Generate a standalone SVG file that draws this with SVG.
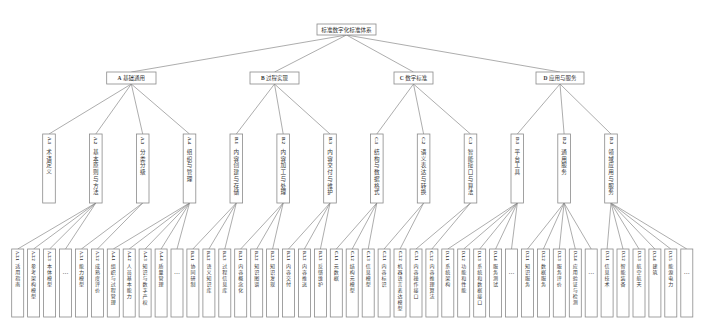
<svg xmlns="http://www.w3.org/2000/svg" width="709" height="326" viewBox="0 0 709 326">
<style>
.b{fill:#fff;stroke:#8a8a8a;stroke-width:0.8}
.c path{stroke:#8a8a8a;stroke-width:0.7;fill:none}
.h{font-family:"Liberation Serif","Noto Sans CJK SC",serif;fill:#333;text-anchor:middle}
.lb{font-family:"Liberation Serif",serif;font-weight:bold;fill:#333;dominant-baseline:central}
.l2{font-size:5px}
.l3{font-size:4.3px}
.t2,.t3{font-family:"Liberation Serif","Noto Sans CJK SC",serif;fill:#3a3a3a;text-anchor:middle}
.t2{font-size:5.6px}
.t3{font-size:5px}
.d{font-family:"Liberation Serif",serif;font-size:6px;fill:#333;text-anchor:middle}
</style>
<rect width="709" height="326" fill="#fff"/>
<g class="c" id="connectors">
<path d="M346.5 35L131.3 72M346.5 35L274.5 72M346.5 35L413.5 72M346.5 35L560 72"/>
<path d="M131.3 84L49 134M131.3 84L95.8 134M131.3 84L142.7 134M131.3 84L189.5 134"/>
<path d="M274.5 84L236.3 134M274.5 84L283.2 134M274.5 84L330 134"/>
<path d="M413.5 84L376.8 134M413.5 84L423.6 134M413.5 84L470.5 134"/>
<path d="M560 84L517.3 134M560 84L564.1 134M560 84L611 134"/>
<path d="M95.8 203L17.7 249M95.8 203L33.6 249M95.8 203L49.6 249M95.8 203L65.5 249"/>
<path d="M142.7 203L81.4 249M142.7 203L97.4 249"/>
<path d="M189.5 203L113.3 249M189.5 203L129.2 249M189.5 203L145.1 249M189.5 203L161.1 249M189.5 203L177 249"/>
<path d="M236.3 203L192.9 249M236.3 203L208.9 249M236.3 203L224.8 249"/>
<path d="M283.2 203L240.7 249M283.2 203L256.7 249M283.2 203L272.6 249"/>
<path d="M330 203L288.5 249M330 203L304.4 249M330 203L320.4 249"/>
<path d="M376.8 203L336.3 249M376.8 203L352.2 249M376.8 203L368.2 249"/>
<path d="M423.6 203L384.1 249M423.6 203L400 249"/>
<path d="M470.5 203L416 249M470.5 203L431.9 249"/>
<path d="M517.3 203L447.8 249M517.3 203L463.7 249M517.3 203L479.7 249M517.3 203L495.6 249M517.3 203L511.5 249"/>
<path d="M564.1 203L527.5 249M564.1 203L543.4 249M564.1 203L559.3 249M564.1 203L575.3 249M564.1 203L591.2 249"/>
<path d="M611 203L607.1 249M611 203L623 249M611 203L639 249M611 203L654.9 249M611 203L670.8 249M611 203L686.8 249"/>
</g>
<g id="root"><rect class="b" x="317" y="24" width="59" height="11"/><text class="h" x="346.5" y="31.6" font-size="5.6">标准数字化标准体系</text></g>
<g id="A"><rect class="b" x="106.7" y="72" width="49.3" height="12"/><text class="h" x="131.3" y="80" font-size="5.5"><tspan font-weight="bold">A</tspan> 基础通用</text></g>
<g id="B"><rect class="b" x="250" y="72" width="49" height="12"/><text class="h" x="274.5" y="80" font-size="5.5"><tspan font-weight="bold">B</tspan> 过程实现</text></g>
<g id="C"><rect class="b" x="394" y="72" width="39" height="12"/><text class="h" x="413.5" y="80" font-size="5.5"><tspan font-weight="bold">C</tspan> 数字标准</text></g>
<g id="D"><rect class="b" x="536" y="72" width="48" height="12"/><text class="h" x="560" y="80" font-size="5.5"><tspan font-weight="bold">D</tspan> 应用与服务</text></g>

<g id="A1"><rect class="b" x="42.7" y="134" width="12.6" height="69"/><text class="lb l2" transform="translate(49 137) rotate(90)">A.1</text><text class="t2" x="49 49 49 49" y="154 160.7 167.4 174.1">术语定义</text></g>
<g id="A2"><rect class="b" x="89.5" y="134" width="12.6" height="69"/><text class="lb l2" transform="translate(95.8 137) rotate(90)">A.2</text><text class="t2" x="95.8 95.8 95.8 95.8 95.8 95.8 95.8" y="154 160.7 167.4 174.1 180.8 187.5 194.2">基本原则与方法</text></g>
<g id="A3"><rect class="b" x="136.4" y="134" width="12.6" height="69"/><text class="lb l2" transform="translate(142.7 137) rotate(90)">A.3</text><text class="t2" x="142.7 142.7 142.7 142.7" y="154 160.7 167.4 174.1">分类分级</text></g>
<g id="A4"><rect class="b" x="183.2" y="134" width="12.6" height="69"/><text class="lb l2" transform="translate(189.5 137) rotate(90)">A.4</text><text class="t2" x="189.5 189.5 189.5 189.5 189.5" y="154 160.7 167.4 174.1 180.8">组织与管理</text></g>
<g id="B1"><rect class="b" x="230" y="134" width="12.6" height="69"/><text class="lb l2" transform="translate(236.3 137) rotate(90)">B.1</text><text class="t2" x="236.3 236.3 236.3 236.3 236.3 236.3 236.3" y="154 160.7 167.4 174.1 180.8 187.5 194.2">内容创建与存储</text></g>
<g id="B2"><rect class="b" x="276.9" y="134" width="12.6" height="69"/><text class="lb l2" transform="translate(283.2 137) rotate(90)">B.2</text><text class="t2" x="283.2 283.2 283.2 283.2 283.2 283.2 283.2" y="154 160.7 167.4 174.1 180.8 187.5 194.2">内容加工与处理</text></g>
<g id="B3"><rect class="b" x="323.7" y="134" width="12.6" height="69"/><text class="lb l2" transform="translate(330 137) rotate(90)">B.3</text><text class="t2" x="330 330 330 330 330 330 330" y="154 160.7 167.4 174.1 180.8 187.5 194.2">内容交付与维护</text></g>
<g id="C1"><rect class="b" x="370.5" y="134" width="12.6" height="69"/><text class="lb l2" transform="translate(376.8 137) rotate(90)">C.1</text><text class="t2" x="376.8 376.8 376.8 376.8 376.8 376.8 376.8" y="154 160.7 167.4 174.1 180.8 187.5 194.2">结构与数据格式</text></g>
<g id="C2"><rect class="b" x="417.3" y="134" width="12.6" height="69"/><text class="lb l2" transform="translate(423.6 137) rotate(90)">C.2</text><text class="t2" x="423.6 423.6 423.6 423.6 423.6 423.6 423.6" y="154 160.7 167.4 174.1 180.8 187.5 194.2">语义表达与转换</text></g>
<g id="C3"><rect class="b" x="464.2" y="134" width="12.6" height="69"/><text class="lb l2" transform="translate(470.5 137) rotate(90)">C.3</text><text class="t2" x="470.5 470.5 470.5 470.5 470.5 470.5 470.5" y="154 160.7 167.4 174.1 180.8 187.5 194.2">智能接口与算法</text></g>
<g id="D1"><rect class="b" x="511" y="134" width="12.6" height="69"/><text class="lb l2" transform="translate(517.3 137) rotate(90)">D.1</text><text class="t2" x="517.3 517.3 517.3 517.3" y="154 160.7 167.4 174.1">平台工具</text></g>
<g id="D2"><rect class="b" x="557.8" y="134" width="12.6" height="69"/><text class="lb l2" transform="translate(564.1 137) rotate(90)">D.2</text><text class="t2" x="564.1 564.1 564.1 564.1" y="154 160.7 167.4 174.1">通用服务</text></g>
<g id="D3"><rect class="b" x="604.7" y="134" width="12.6" height="69"/><text class="lb l2" transform="translate(611 137) rotate(90)">D.3</text><text class="t2" x="611 611 611 611 611 611 611" y="154 160.7 167.4 174.1 180.8 187.5 194.2">领域应用与服务</text></g>

<g id="A21"><rect class="b" x="11.7" y="249" width="12" height="68"/><text class="lb l3" transform="translate(17.7 251) rotate(90)">A.2.1</text><text class="t3" x="17.7 17.7 17.7 17.7" y="267.6 273.6 279.6 285.6">适用指南</text></g>
<g id="A22"><rect class="b" x="27.6" y="249" width="12" height="68"/><text class="lb l3" transform="translate(33.6 251) rotate(90)">A.2.2</text><text class="t3" x="33.6 33.6 33.6 33.6 33.6 33.6" y="267.6 273.6 279.6 285.6 291.6 297.6">参考架构模型</text></g>
<g id="A23"><rect class="b" x="43.6" y="249" width="12" height="68"/><text class="lb l3" transform="translate(49.6 251) rotate(90)">A.2.3</text><text class="t3" x="49.6 49.6 49.6 49.6" y="267.6 273.6 279.6 285.6">本体模型</text></g>
<g id="A2x"><rect class="b" x="59.5" y="249" width="12" height="68"/><text class="d" x="65.5" y="274">…</text></g>
<g id="A31"><rect class="b" x="75.4" y="249" width="12" height="68"/><text class="lb l3" transform="translate(81.4 251) rotate(90)">A.3.1</text><text class="t3" x="81.4 81.4 81.4 81.4" y="267.6 273.6 279.6 285.6">能力模型</text></g>
<g id="A32"><rect class="b" x="91.4" y="249" width="12" height="68"/><text class="lb l3" transform="translate(97.4 251) rotate(90)">A.3.2</text><text class="t3" x="97.4 97.4 97.4 97.4 97.4" y="267.6 273.6 279.6 285.6 291.6">成熟度评价</text></g>
<g id="A41"><rect class="b" x="107.3" y="249" width="12" height="68"/><text class="lb l3" transform="translate(113.3 251) rotate(90)">A.4.1</text><text class="t3" x="113.3 113.3 113.3 113.3 113.3 113.3 113.3" y="267.6 273.6 279.6 285.6 291.6 297.6 303.6">组织与过程管理</text></g>
<g id="A42"><rect class="b" x="123.2" y="249" width="12" height="68"/><text class="lb l3" transform="translate(129.2 251) rotate(90)">A.4.2</text><text class="t3" x="129.2 129.2 129.2 129.2 129.2 129.2" y="267.6 273.6 279.6 285.6 291.6 297.6">人员基本能力</text></g>
<g id="A43"><rect class="b" x="139.1" y="249" width="12" height="68"/><text class="lb l3" transform="translate(145.1 251) rotate(90)">A.4.3</text><text class="t3" x="145.1 145.1 145.1 145.1 145.1 145.1 145.1" y="267.6 273.6 279.6 285.6 291.6 297.6 303.6">知识与数字产权</text></g>
<g id="A44"><rect class="b" x="155.1" y="249" width="12" height="68"/><text class="lb l3" transform="translate(161.1 251) rotate(90)">A.4.4</text><text class="t3" x="161.1 161.1 161.1 161.1" y="267.6 273.6 279.6 285.6">质量管理</text></g>
<g id="A4x"><rect class="b" x="171" y="249" width="12" height="68"/><text class="d" x="177" y="274">…</text></g>
<g id="B11"><rect class="b" x="186.9" y="249" width="12" height="68"/><text class="lb l3" transform="translate(192.9 251) rotate(90)">B.1.1</text><text class="t3" x="192.9 192.9 192.9 192.9" y="267.6 273.6 279.6 285.6">协同研制</text></g>
<g id="B12"><rect class="b" x="202.9" y="249" width="12" height="68"/><text class="lb l3" transform="translate(208.9 251) rotate(90)">B.1.2</text><text class="t3" x="208.9 208.9 208.9 208.9 208.9" y="267.6 273.6 279.6 285.6 291.6">语义知识库</text></g>
<g id="B13"><rect class="b" x="218.8" y="249" width="12" height="68"/><text class="lb l3" transform="translate(224.8 251) rotate(90)">B.1.3</text><text class="t3" x="224.8 224.8 224.8 224.8 224.8" y="267.6 273.6 279.6 285.6 291.6">过程信息库</text></g>
<g id="B21"><rect class="b" x="234.7" y="249" width="12" height="68"/><text class="lb l3" transform="translate(240.7 251) rotate(90)">B.2.1</text><text class="t3" x="240.7 240.7 240.7 240.7 240.7" y="267.6 273.6 279.6 285.6 291.6">内容概念化</text></g>
<g id="B22"><rect class="b" x="250.7" y="249" width="12" height="68"/><text class="lb l3" transform="translate(256.7 251) rotate(90)">B.2.2</text><text class="t3" x="256.7 256.7 256.7 256.7" y="267.6 273.6 279.6 285.6">知识图谱</text></g>
<g id="B23"><rect class="b" x="266.6" y="249" width="12" height="68"/><text class="lb l3" transform="translate(272.6 251) rotate(90)">B.2.3</text><text class="t3" x="272.6 272.6 272.6 272.6" y="267.6 273.6 279.6 285.6">知识发现</text></g>
<g id="B31"><rect class="b" x="282.5" y="249" width="12" height="68"/><text class="lb l3" transform="translate(288.5 251) rotate(90)">B.3.1</text><text class="t3" x="288.5 288.5 288.5 288.5" y="267.6 273.6 279.6 285.6">内容交付</text></g>
<g id="B32"><rect class="b" x="298.4" y="249" width="12" height="68"/><text class="lb l3" transform="translate(304.4 251) rotate(90)">B.3.2</text><text class="t3" x="304.4 304.4 304.4 304.4" y="267.6 273.6 279.6 285.6">内容推送</text></g>
<g id="B33"><rect class="b" x="314.4" y="249" width="12" height="68"/><text class="lb l3" transform="translate(320.4 251) rotate(90)">B.3.3</text><text class="t3" x="320.4 320.4 320.4 320.4" y="267.6 273.6 279.6 285.6">反馈维护</text></g>
<g id="C11"><rect class="b" x="330.3" y="249" width="12" height="68"/><text class="lb l3" transform="translate(336.3 251) rotate(90)">C.1.1</text><text class="t3" x="336.3 336.3 336.3" y="267.6 273.6 279.6">元数据</text></g>
<g id="C12"><rect class="b" x="346.2" y="249" width="12" height="68"/><text class="lb l3" transform="translate(352.2 251) rotate(90)">C.1.2</text><text class="t3" x="352.2 352.2 352.2 352.2 352.2" y="267.6 273.6 279.6 285.6 291.6">结构元模型</text></g>
<g id="C13"><rect class="b" x="362.2" y="249" width="12" height="68"/><text class="lb l3" transform="translate(368.2 251) rotate(90)">C.1.3</text><text class="t3" x="368.2 368.2 368.2 368.2" y="267.6 273.6 279.6 285.6">信息模型</text></g>
<g id="C21"><rect class="b" x="378.1" y="249" width="12" height="68"/><text class="lb l3" transform="translate(384.1 251) rotate(90)">C.2.1</text><text class="t3" x="384.1 384.1 384.1 384.1" y="267.6 273.6 279.6 285.6">内容标识</text></g>
<g id="C22"><rect class="b" x="394" y="249" width="12" height="68"/><text class="lb l3" transform="translate(400 251) rotate(90)">C.2.2</text><text class="t3" x="400 400 400 400 400 400 400 400" y="267.6 273.6 279.6 285.6 291.6 297.6 303.6 309.6">机器语言表达模型</text></g>
<g id="C31"><rect class="b" x="410" y="249" width="12" height="68"/><text class="lb l3" transform="translate(416 251) rotate(90)">C.3.1</text><text class="t3" x="416 416 416 416 416 416" y="267.6 273.6 279.6 285.6 291.6 297.6">内容操作接口</text></g>
<g id="C32"><rect class="b" x="425.9" y="249" width="12" height="68"/><text class="lb l3" transform="translate(431.9 251) rotate(90)">C.3.2</text><text class="t3" x="431.9 431.9 431.9 431.9 431.9 431.9" y="267.6 273.6 279.6 285.6 291.6 297.6">内容推理算法</text></g>
<g id="D11"><rect class="b" x="441.8" y="249" width="12" height="68"/><text class="lb l3" transform="translate(447.8 251) rotate(90)">D.1.1</text><text class="t3" x="447.8 447.8 447.8 447.8" y="267.6 273.6 279.6 285.6">系统架构</text></g>
<g id="D12"><rect class="b" x="457.7" y="249" width="12" height="68"/><text class="lb l3" transform="translate(463.7 251) rotate(90)">D.1.2</text><text class="t3" x="463.7 463.7 463.7 463.7 463.7" y="267.6 273.6 279.6 285.6 291.6">功能和性能</text></g>
<g id="D13"><rect class="b" x="473.7" y="249" width="12" height="68"/><text class="lb l3" transform="translate(479.7 251) rotate(90)">D.1.3</text><text class="t3" x="479.7 479.7 479.7 479.7 479.7 479.7 479.7" y="267.6 273.6 279.6 285.6 291.6 297.6 303.6">系统和数据接口</text></g>
<g id="D14"><rect class="b" x="489.6" y="249" width="12" height="68"/><text class="lb l3" transform="translate(495.6 251) rotate(90)">D.1.4</text><text class="t3" x="495.6 495.6 495.6 495.6" y="267.6 273.6 279.6 285.6">服务测试</text></g>
<g id="D1x"><rect class="b" x="505.5" y="249" width="12" height="68"/><text class="d" x="511.5" y="274">…</text></g>
<g id="D21"><rect class="b" x="521.5" y="249" width="12" height="68"/><text class="lb l3" transform="translate(527.5 251) rotate(90)">D.2.1</text><text class="t3" x="527.5 527.5 527.5 527.5" y="267.6 273.6 279.6 285.6">知识服务</text></g>
<g id="D22"><rect class="b" x="537.4" y="249" width="12" height="68"/><text class="lb l3" transform="translate(543.4 251) rotate(90)">D.2.2</text><text class="t3" x="543.4 543.4 543.4 543.4" y="267.6 273.6 279.6 285.6">数据服务</text></g>
<g id="D23"><rect class="b" x="553.3" y="249" width="12" height="68"/><text class="lb l3" transform="translate(559.3 251) rotate(90)">D.2.3</text><text class="t3" x="559.3 559.3 559.3 559.3" y="267.6 273.6 279.6 285.6">服务评价</text></g>
<g id="D24"><rect class="b" x="569.3" y="249" width="12" height="68"/><text class="lb l3" transform="translate(575.3 251) rotate(90)">D.2.4</text><text class="t3" x="575.3 575.3 575.3 575.3 575.3 575.3 575.3" y="267.6 273.6 279.6 285.6 291.6 297.6 303.6">应用验证与检测</text></g>
<g id="D2x"><rect class="b" x="585.2" y="249" width="12" height="68"/><text class="d" x="591.2" y="274">…</text></g>
<g id="D31"><rect class="b" x="601.1" y="249" width="12" height="68"/><text class="lb l3" transform="translate(607.1 251) rotate(90)">D.3.1</text><text class="t3" x="607.1 607.1 607.1 607.1" y="267.6 273.6 279.6 285.6">信息技术</text></g>
<g id="D32"><rect class="b" x="617" y="249" width="12" height="68"/><text class="lb l3" transform="translate(623 251) rotate(90)">D.3.2</text><text class="t3" x="623 623 623 623" y="267.6 273.6 279.6 285.6">智能装备</text></g>
<g id="D33"><rect class="b" x="633" y="249" width="12" height="68"/><text class="lb l3" transform="translate(639 251) rotate(90)">D.3.3</text><text class="t3" x="639 639 639 639" y="267.6 273.6 279.6 285.6">航空航天</text></g>
<g id="D34"><rect class="b" x="648.9" y="249" width="12" height="68"/><text class="lb l3" transform="translate(654.9 251) rotate(90)">D.3.4</text><text class="t3" x="654.9 654.9" y="267.6 273.6">建筑</text></g>
<g id="D35"><rect class="b" x="664.8" y="249" width="12" height="68"/><text class="lb l3" transform="translate(670.8 251) rotate(90)">D.3.5</text><text class="t3" x="670.8 670.8 670.8 670.8" y="267.6 273.6 279.6 285.6">能源电力</text></g>
<g id="D3x"><rect class="b" x="680.8" y="249" width="12" height="68"/><text class="d" x="686.8" y="274">…</text></g>
</svg>
